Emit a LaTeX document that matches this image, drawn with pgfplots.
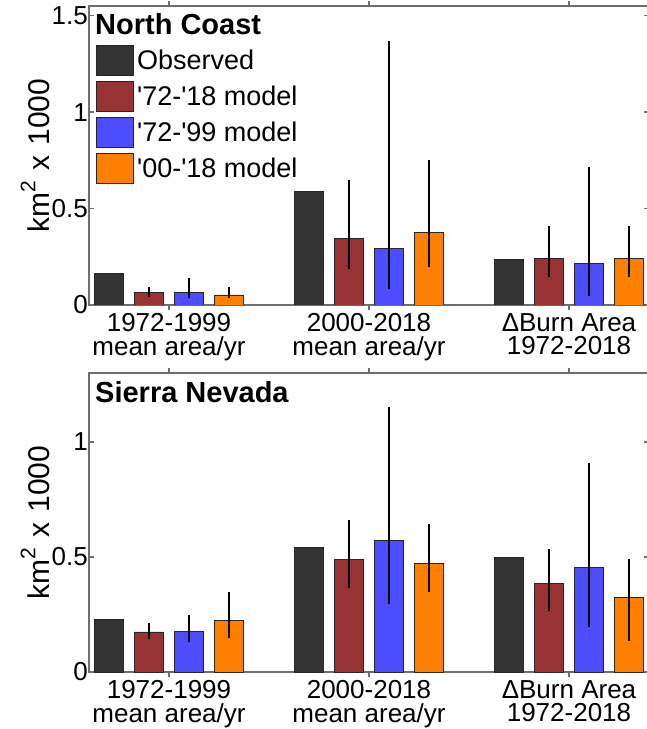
\documentclass[border=0pt]{standalone}
\usepackage{fontspec}
\setmainfont{Liberation Sans}
\usepackage{pgfplots}
\usepackage{pgfplotstable}
\pgfplotsset{compat=1.18}
\definecolor{cObs}{HTML}{333333}
\definecolor{cRed}{HTML}{993333}
\definecolor{cBlue}{HTML}{4D4DFF}
\definecolor{cOrg}{HTML}{FF8000}
\definecolor{axgray}{HTML}{6E6E6E}

% ---------------- North Coast ----------------
\pgfplotstableread{
x y
0.7 0.165
1.7 0.590
2.7 0.238
}\ncObs
\pgfplotstableread{
x y lo hi
0.9 0.067 0.041 0.093
1.9 0.347 0.186 0.650
2.9 0.243 0.145 0.410
}\ncRed
\pgfplotstableread{
x y lo hi
1.1 0.067 0.036 0.140
2.1 0.295 0.083 1.370
3.1 0.217 0.047 0.715
}\ncBlue
\pgfplotstableread{
x y lo hi
1.3 0.052 0.036 0.093
2.3 0.378 0.196 0.750
3.3 0.243 0.145 0.410
}\ncOrg

% ---------------- Sierra Nevada ----------------
\pgfplotstableread{
x y
0.7 0.230
1.7 0.543
2.7 0.496
}\snObs
\pgfplotstableread{
x y lo hi
0.9 0.174 0.143 0.211
1.9 0.490 0.365 0.660
2.9 0.383 0.265 0.534
}\snRed
\pgfplotstableread{
x y lo hi
1.1 0.178 0.130 0.248
2.1 0.570 0.296 1.152
3.1 0.456 0.196 0.908
}\snBlue
\pgfplotstableread{
x y lo hi
1.3 0.222 0.148 0.350
2.3 0.470 0.348 0.643
3.3 0.325 0.135 0.492
}\snOrg

\newcommand{\q}{\textquotesingle}

\pgfplotsset{
  panel/.style={
    scale only axis, width=560pt, height=299pt,
    xmin=0.6, xmax=3.4, ymin=0,
    xtick={1,2,3},
    xticklabels={{1972-1999\\mean area/yr},{2000-2018\\mean area/yr},{ΔBurn Area\\1972-2018}},
    axis line style={axgray, line width=1.2pt},
    every tick/.style={axgray, line width=1.2pt},
    major tick length=5pt,
    tick align=inside,
    ybar, bar width=0.145, bar shift=0pt,
    /pgf/number format/assume math mode=true,
    yticklabel style={font=\fontsize{26}{26}\selectfont, inner sep=1pt},
    xticklabel style={font=\fontsize{26}{23.5}\selectfont, align=center},
    ylabel={km{\fontsize{21}{21}\selectfont\raisebox{14pt}{2}}\hspace{10pt}x\hspace{10pt}1000},
    every axis y label/.style={at={(axis description cs:-0.07,0.5)}, rotate=90, anchor=south, inner sep=0pt, font=\fontsize{30}{30}\selectfont},
    error bars/error bar style={black, line width=1.3pt},
    error bars/error mark=none,
    legend image code/.code={\draw[##1] (0pt,-6pt) rectangle (37pt,24pt);},
  },
  barstyle/.style={draw=black!85, line width=0.9pt, fill=#1},
  errplot/.style={error bars/.cd, y dir=both, y explicit},
}

\begin{document}
\begin{tikzpicture}
\begin{axis}[panel, at={(89pt,424pt)}, anchor=south west,
  ymax=1.55, ytick={0,0.5,1,1.5},
  legend cell align=left,
  legend style={at={(rel axis cs:0,1)}, anchor=north west, xshift=7pt, yshift=-39pt,
    draw=none, fill=none, inner sep=0pt, row sep=5pt, column sep=3pt,
    font=\fontsize{27}{27}\selectfont, nodes={inner sep=0pt}, cells={anchor=base west}}]
\addplot[barstyle=cObs] table[x=x,y=y] \ncObs;
\addlegendentry{Observed}
\addplot[barstyle=cRed, errplot] table[x=x,y=y, y error plus expr=\thisrow{hi}-\thisrow{y}, y error minus expr=\thisrow{y}-\thisrow{lo}] \ncRed;
\addlegendentry{\q72-\q18 model}
\addplot[barstyle=cBlue, errplot] table[x=x,y=y, y error plus expr=\thisrow{hi}-\thisrow{y}, y error minus expr=\thisrow{y}-\thisrow{lo}] \ncBlue;
\addlegendentry{\q72-\q99 model}
\addplot[barstyle=cOrg, errplot] table[x=x,y=y, y error plus expr=\thisrow{hi}-\thisrow{y}, y error minus expr=\thisrow{y}-\thisrow{lo}] \ncOrg;
\addlegendentry{\q00-\q18 model}
\node[anchor=base west, font=\bfseries\fontsize{29}{29}\selectfont, inner sep=0pt] at ([xshift=6pt, yshift=-29pt]rel axis cs:0,1) {North Coast};
\end{axis}

\begin{axis}[panel, at={(89pt,57pt)}, anchor=south west,
  ymax=1.3, ytick={0,0.5,1}]
\addplot[barstyle=cObs] table[x=x,y=y] \snObs;
\addplot[barstyle=cRed, errplot] table[x=x,y=y, y error plus expr=\thisrow{hi}-\thisrow{y}, y error minus expr=\thisrow{y}-\thisrow{lo}] \snRed;
\addplot[barstyle=cBlue, errplot] table[x=x,y=y, y error plus expr=\thisrow{hi}-\thisrow{y}, y error minus expr=\thisrow{y}-\thisrow{lo}] \snBlue;
\addplot[barstyle=cOrg, errplot] table[x=x,y=y, y error plus expr=\thisrow{hi}-\thisrow{y}, y error minus expr=\thisrow{y}-\thisrow{lo}] \snOrg;
\node[anchor=base west, font=\bfseries\fontsize{29}{29}\selectfont, inner sep=0pt] at ([xshift=6pt, yshift=-29pt]rel axis cs:0,1) {Sierra Nevada};
\end{axis}
\pgfresetboundingbox
\path[use as bounding box] (0,0) rectangle (647pt,729pt);
\end{tikzpicture}
\end{document}
